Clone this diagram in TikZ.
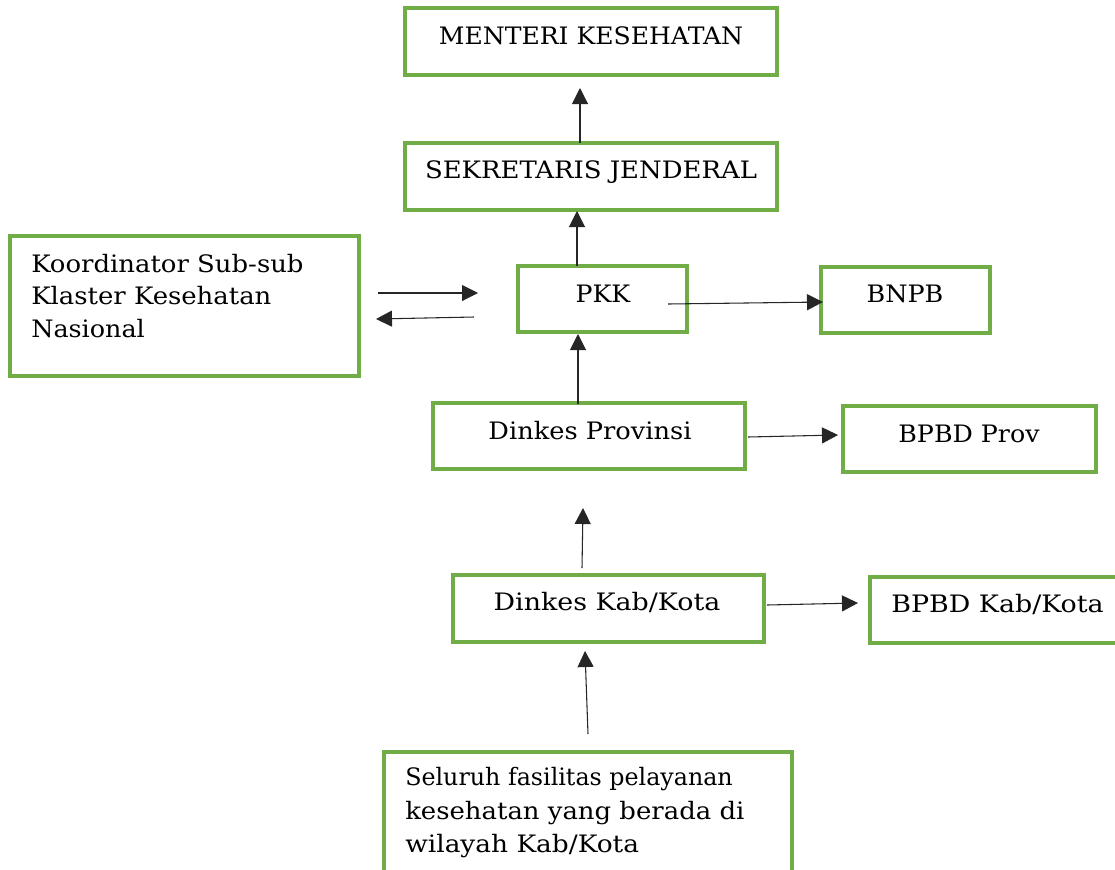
\documentclass[tikz,border=0pt]{standalone}
\usepackage{fontspec}
\setmainfont{DejaVu Serif}
\usetikzlibrary{arrows.meta,fit}
\definecolor{boxgreen}{RGB}{112,173,71}
\newcommand{\wid}[2]{\scalebox{#1}[1]{#2}}
\tikzset{
  box/.style={draw=boxgreen, line width=2.4pt, inner sep=0pt, rectangle},
  txt/.style={inner sep=0pt, font=\fontsize{18}{24}\selectfont, text=black},
  arr/.style={line width=0.8pt, draw=black!85, -{Triangle[length=12pt,width=12pt]}},
}
\begin{document}
\begin{tikzpicture}[x=0.75pt,y=-0.75pt]
\useasboundingbox (0,0) rectangle (1115,869);
\clip (0,0) rectangle (1115,869);
% boxes
\node[box, fit={(405,8)(777,75)}] (men) {};
\node[box, fit={(405,143)(777,210)}] (sek) {};
\node[box, fit={(10,236)(359,376)}] (kor) {};
\node[box, fit={(518,266)(687,332)}] (pkk) {};
\node[box, fit={(821,267)(990,333)}] (bnpb) {};
\node[box, fit={(433,403)(745,469)}] (prov) {};
\node[box, fit={(843,406)(1096,472)}] (bpprov) {};
\node[box, fit={(453,575)(764,642)}] (kab) {};
\node[box, fit={(870,577)(1130,643)}] (bpkab) {};
\node[box, fit={(384,752)(792,890)}] (faskes) {};
% texts
\node[txt, anchor=base] (menT) at (591,44) {\wid{1.045}{MENTERI KESEHATAN}};
\node[txt, anchor=base] (sekT) at (591,178) {\wid{1.08}{SEKRETARIS JENDERAL}};
\node[txt, anchor=base west] (korT1) at (31,272) {\wid{1.08}{Koordinator Sub-sub}};
\node[txt, anchor=base west] (korT2) at (31,304) {\wid{1.08}{Klaster Kesehatan}};
\node[txt, anchor=base west] (korT3) at (31,337) {\wid{1.06}{Nasional}};
\node[txt, anchor=base] (pkkT) at (603,302) {\wid{1.05}{PKK}};
\node[txt, anchor=base] (bnpbT) at (905,302) {\wid{1.06}{BNPB}};
\node[txt, anchor=base] (provT) at (590,439) {\wid{1.07}{Dinkes Provinsi}};
\node[txt, anchor=base] (bpprovT) at (969,442) {\wid{1.055}{BPBD Prov}};
\node[txt, anchor=base] (kabT) at (607,610) {\wid{1.12}{Dinkes Kab/Kota}};
\node[txt, anchor=base west] (bpkabT) at (891,612) {\wid{1.12}{BPBD Kab/Kota}};
\node[txt, anchor=base west] (fasT1) at (405,785) {\wid{0.99}{Seluruh fasilitas pelayanan}};
\node[txt, anchor=base west] (fasT2) at (405,819) {\wid{1.08}{kesehatan yang berada di}};
\node[txt, anchor=base west] (fasT3) at (405,852) {\wid{1.10}{wilayah Kab/Kota}};
% connector end points
\coordinate (a1s) at (580,143); \coordinate (a1e) at (580,88);
\coordinate (a2s) at (577,266); \coordinate (a2e) at (577,211);
\coordinate (a3s) at (378,293); \coordinate (a3e) at (478,293);
\coordinate (a4s) at (474,317); \coordinate (a4e) at (376,319);
\coordinate (a5s) at (668,304); \coordinate (a5e) at (823,302);
\coordinate (a6s) at (578,404); \coordinate (a6e) at (578,334);
\coordinate (a7s) at (748,437); \coordinate (a7e) at (838,435);
\coordinate (a8s) at (582,568); \coordinate (a8e) at (583,508);
\coordinate (a9s) at (767,605); \coordinate (a9e) at (858,603);
\coordinate (a10s) at (588,734); \coordinate (a10e) at (585,651);
% connectors
\draw[arr] (a1s) -- (a1e);
\draw[arr] (a2s) -- (a2e);
\draw[arr] (a3s) -- (a3e);
\draw[arr] (a4s) -- (a4e);
\draw[arr] (a5s) -- (a5e);
\draw[arr] (a6s) -- (a6e);
\draw[arr] (a7s) -- (a7e);
\draw[arr] (a8s) -- (a8e);
\draw[arr] (a9s) -- (a9e);
\draw[arr] (a10s) -- (a10e);
\end{tikzpicture}
\end{document}
